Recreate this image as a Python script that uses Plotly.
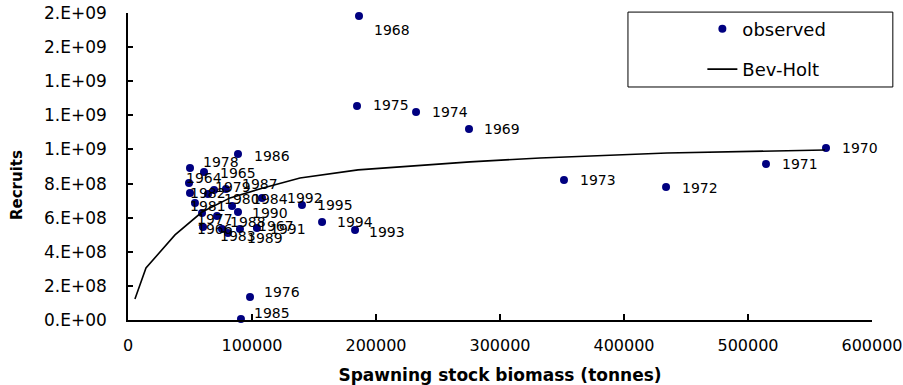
import plotly.graph_objects as go

# ---- data ----
years = ["1964", "1965", "1966", "1967", "1968", "1969", "1970", "1971",
         "1972", "1973", "1974", "1975", "1976", "1977", "1978", "1979",
         "1980", "1981", "1982", "1983", "1984", "1985", "1986", "1987",
         "1988", "1989", "1990", "1991", "1992", "1993", "1994", "1995"]
ssb = [49200, 61300, 60500, 90300, 186300, 275000, 562900, 514500,
       433900, 351600, 232300, 184700, 98400, 59700, 50000, 69400,
       64500, 54000, 50000, 75800, 83900, 91100, 88700, 79000,
       71800, 80600, 88700, 104000, 108100, 183100, 156500, 140300]
recruits = [803e6, 868e6, 545e6, 534e6, 1783e6, 1120e6, 1009e6, 915e6,
            780e6, 821e6, 1220e6, 1255e6, 135e6, 628e6, 891e6, 762e6,
            739e6, 686e6, 745e6, 534e6, 669e6, 6e6, 974e6, 768e6,
            610e6, 510e6, 633e6, 540e6, 716e6, 528e6, 575e6, 674e6]

bh_ssb = [5600, 14500, 37900, 59700, 82300, 108900, 138700, 185500,
          275800, 332300, 434700, 517700, 562100]
bh_rec = [123e6, 305e6, 499e6, 633e6, 716e6, 774e6, 833e6, 880e6,
          927e6, 950e6, 979e6, 991e6, 997e6]

y_tickvals = [0, 2e8, 4e8, 6e8, 8e8, 1.0e9, 1.2e9, 1.4e9, 1.6e9, 1.8e9]
y_ticktext = ["0.E+00", "2.E+08", "4.E+08", "6.E+08", "8.E+08",
              "1.E+09", "1.E+09", "1.E+09", "2.E+09", "2.E+09"]
x_tickvals = [0, 100000, 200000, 300000, 400000, 500000, 600000]

# ---- label placement (pixel offsets of each year label from its point) ----
label_dx = [-5, 14, -8, 16, 13, 13, 14, 14, 14, 14, 14, 14, 12, -7, 11, -1,
            14, -7, -2, -4, 18, 11, 14, 14, 11, 17, 12, 11, 23, 12, 13, 13]
label_dy = [-5, 1, 2, -3, 14, 0, 0, 0, 1, 0, 0, -1, -5, 6, -6, -3,
            5, 3, 0, 7, -7, -6, 2, -5, 6, 5, 1, 1, 0, 2, 0, 0]

NAVY = "#000080"
FONT = "DejaVu Sans"

fig = go.Figure()
fig.add_trace(go.Scatter(
    x=ssb, y=recruits, mode="markers", name="observed",
    marker=dict(color=NAVY, size=8, line=dict(width=0)),
    legendgroup="a", cliponaxis=False,
))
fig.add_trace(go.Scatter(
    x=bh_ssb, y=bh_rec, mode="lines", name="Bev-Holt",
    line=dict(color="black", width=1.6),
    legendgroup="b",
))

annotations = []
for yr, xv, yv, dx, dy in zip(years, ssb, recruits, label_dx, label_dy):
    annotations.append(dict(
        x=xv, y=yv, xref="x", yref="y", text=yr, showarrow=False,
        xanchor="left", yanchor="middle", xshift=dx, yshift=-dy,
        font=dict(family=FONT, size=14, color="black"),
    ))
annotations.append(dict(
    x=-0.149, y=0.44, xref="paper", yref="paper", text="<b>Recruits</b>",
    textangle=-90, showarrow=False, xanchor="center", yanchor="middle",
    font=dict(family=FONT, size=15, color="black"),
))

fig.update_layout(
    width=903, height=385,
    autosize=False,
    margin=dict(l=128, r=31, t=13, b=65, autoexpand=False),
    paper_bgcolor="white", plot_bgcolor="white",
    showlegend=True,
    legend=dict(
        x=0.772, y=1.008, xanchor="left", yanchor="top",
        bgcolor="rgba(0,0,0,0)", borderwidth=0,
        font=dict(family=FONT, size=18, color="black"),
        tracegroupgap=14,
    ),
    shapes=[dict(
        type="rect", xref="paper", yref="paper",
        x0=0.672, x1=1.028, y0=0.759, y1=1.003,
        line=dict(color="black", width=1), fillcolor="white", layer="below",
    )],
    annotations=annotations,
    xaxis=dict(
        range=[0, 600000], tickvals=x_tickvals, tickformat="d",
        automargin=False,
        showgrid=False, zeroline=False, showline=True,
        linecolor="black", linewidth=1.5,
        ticks="inside", ticklen=6, tickwidth=1.5, tickcolor="black",
        tickfont=dict(family=FONT, size=16, color="black"),
        ticklabelstandoff=10,
        title=dict(text="<b>Spawning stock biomass (tonnes)</b>",
                   font=dict(family=FONT, size=17, color="black"),
                   standoff=16),
    ),
    yaxis=dict(
        range=[0, 1.8e9], tickvals=y_tickvals, ticktext=y_ticktext,
        automargin=False,
        showgrid=False, zeroline=False, showline=True,
        linecolor="black", linewidth=1.5,
        ticks="inside", ticklen=5, tickwidth=1.5, tickcolor="black",
        tickfont=dict(family=FONT, size=17, color="black"),
        ticklabelstandoff=16,
    ),
)

fig.write_html("out.html")
